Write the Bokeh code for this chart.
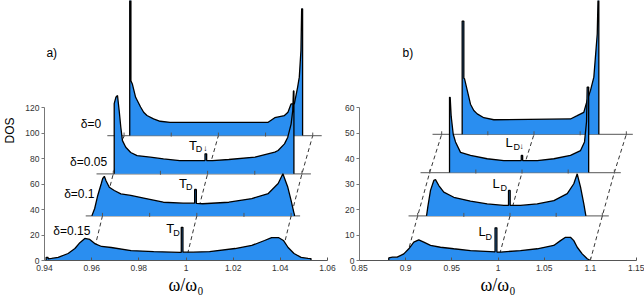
import numpy as np
from bokeh.plotting import figure
from bokeh.models import Range1d, FixedTicker, Label
from bokeh.layouts import row
from bokeh.embed import file_html
from bokeh.resources import INLINE

# ---------------- data ----------------
a_xticks = [0.94, 0.96, 0.98, 1.0, 1.02, 1.04, 1.06]
a_xtick_labels = ["0.94", "0.96", "0.98", "1", "1.02", "1.04", "1.06"]
a_yticks = [0, 20, 40, 60, 80, 100, 120]
b_xticks = [0.85, 0.9, 0.95, 1.0, 1.05, 1.1, 1.15]
b_xtick_labels = ["0.85", "0.9", "0.95", "1", "1.05", "1.1", "1.15"]
b_yticks = [0, 10, 20, 30, 40, 50, 60]

deltas = ["δ=0.15", "δ=0.1", "δ=0.05", "δ=0"]     # front (k=0) to back (k=3)
a_base = [0, 35, 68, 98]                            # baseline offset of each layer (DOS)
b_base = [0, 17.5, 34.5, 49.5]
a_shift = 0.00458                                   # horizontal offset per layer (ω/ω0)
b_shift = 0.0130
a_span = [0.9529, 1.0438]                           # extent of the offset baselines
b_span = [0.8901, 1.1070]
a_guide = [0.96, 0.98, 1.0, 1.02, 1.04]             # ticks on offset baselines
b_guide = [0.9, 0.95, 1.0, 1.05, 1.1]
a_dash = [0.96, 1.0, 1.04]                          # dashed perspective lines
b_dash = [0.9, 1.0, 1.1]

# panel a (T_D) histograms: x = ω/ω0, h = DOS above own baseline
a_x_d015 = [0.9407, 0.9407, 0.9415, 0.9415, 0.9430, 0.9458, 0.9500, 0.9529, 0.9550, 0.9571, 0.9592,
            0.9613, 0.9642, 0.9683, 0.9767, 0.9863, 0.9975, 0.9980, 0.9980, 0.9987, 0.9987, 1.0030,
            1.0100, 1.0208, 1.0279, 1.0333, 1.0363, 1.0392, 1.0413, 1.0433, 1.0458, 1.0488, 1.0517,
            1.0530, 1.0530]
a_h_d015 = [0, 2.5, 2.5, 1.2, 1.6, 2.4, 5.5, 9.4, 14.0, 17.3, 16.5,
            13.3, 11.0, 10.2, 7.8, 7.0, 6.3, 6.3, 26.0, 26.0, 6.5, 6.5,
            7.0, 9.4, 11.8, 15.7, 18.0, 18.0, 15.7, 10.2, 5.5, 2.4, 1.6,
            1.5, 0]
a_x_d010 = [0.9555, 0.9567, 0.9580, 0.9595, 0.9601, 0.9608, 0.9615, 0.9629, 0.9650, 0.9678, 0.9720,
            0.9775, 0.9858, 0.9942, 0.9991, 0.9991, 0.9998, 0.9998, 1.0025, 1.0136, 1.0233, 1.0303,
            1.0345, 1.0365, 1.0386, 1.0400, 1.0411, 1.0414, 1.0414]
a_h_d010 = [0, 5.8, 16.0, 25.4, 29.3, 31.0, 27.6, 22.4, 19.9, 17.2, 16.0,
            14.0, 10.7, 10.0, 10.0, 20.7, 20.7, 9.8, 9.5, 10.7, 13.6, 17.5,
            25.4, 33.0, 22.4, 12.0, 3.0, 1.0, 0]
a_x_d005 = [0.9604, 0.9604, 0.9611, 0.9618, 0.9625, 0.9632, 0.9639, 0.9653, 0.9674, 0.9701, 0.9757,
            0.9813, 0.9882, 0.9958, 0.9989, 0.9989, 0.9996, 0.9996, 1.0021, 1.0090, 1.0201, 1.0285,
            1.0299, 1.0326, 1.0340, 1.0354, 1.0361, 1.0364, 1.0366, 1.0366]
a_h_d005 = [0, 55.0, 60.0, 61.4, 49.6, 36.5, 26.0, 20.8, 16.7, 14.3, 13.0,
            11.7, 10.4, 10.4, 10.4, 15.7, 15.7, 10.4, 10.4, 11.2, 13.1, 17.0,
            18.3, 23.5, 28.7, 39.0, 49.6, 65.0, 65.0, 0]
a_x_d000 = [0.9624, 0.9624, 0.9629, 0.9629, 0.9635, 0.9649, 0.9670, 0.9683, 0.9697, 0.9725, 0.9753,
            0.9795, 1.0211, 1.0239, 1.0280, 1.0295, 1.0308, 1.0322, 1.0336, 1.0343, 1.0350, 1.0353,
            1.0357, 1.0357]
a_h_d000 = [0, 110.0, 110.0, 43.0, 40.5, 30.0, 22.4, 18.3, 15.7, 13.1, 11.2,
            10.4, 10.4, 14.0, 15.7, 18.3, 24.8, 24.8, 38.0, 45.8, 66.7, 99.4,
            99.4, 0]

# panel b (L_D) histograms
b_x_d015 = [0.8817, 0.8817, 0.8857, 0.8908, 0.8980, 0.9034, 0.9088, 0.9142, 0.9196, 0.9269, 0.9377,
            0.9521, 0.9702, 0.9919, 0.9968, 0.9968, 0.9988, 0.9988, 1.0027, 1.0244, 1.0425, 1.0604,
            1.0677, 1.0731, 1.0785, 1.0821, 1.0858, 1.0912, 1.0966, 1.1002]
b_h_d015 = [0, 1.0, 1.3, 1.3, 2.6, 4.6, 7.2, 8.1, 7.2, 5.9, 5.2,
            4.6, 3.9, 3.5, 3.4, 12.8, 12.8, 3.3, 3.3, 3.9, 4.6, 5.9,
            7.8, 9.1, 9.1, 7.8, 5.2, 2.6, 0.7, 0]
b_x_d010 = [0.9096, 0.9110, 0.9139, 0.9175, 0.9193, 0.9229, 0.9283, 0.9391, 0.9572, 0.9753, 0.9933,
            0.9984, 0.9984, 1.0002, 1.0002, 1.0114, 1.0295, 1.0475, 1.0620, 1.0691, 1.0728, 1.0764,
            1.0799, 1.0818, 1.0822]
b_h_d010 = [0, 3.5, 10.0, 13.9, 14.2, 11.9, 9.3, 7.3, 5.8, 4.7, 4.1,
            4.1, 10.0, 10.0, 4.1, 4.1, 4.7, 6.0, 8.7, 12.6, 16.5, 11.3,
            4.8, 0.8, 0]
b_x_d005 = [0.9215, 0.9215, 0.9222, 0.9233, 0.9255, 0.9280, 0.9334, 0.9442, 0.9623, 0.9803, 0.9992,
            0.9992, 1.0007, 1.0007, 1.0165, 1.0345, 1.0525, 1.0634, 1.0677, 1.0699, 1.0706, 1.0722,
            1.0722]
b_h_d005 = [0, 29.5, 29.5, 22.0, 15.0, 12.0, 7.9, 6.7, 5.4, 4.7, 4.7,
            6.7, 6.7, 4.7, 4.7, 5.4, 6.7, 8.6, 12.0, 20.0, 33.5, 33.5,
            0]
b_x_d000 = [0.9222, 0.9222, 0.9240, 0.9240, 0.9247, 0.9277, 0.9312, 0.9348, 0.9385, 0.9456, 0.9565,
            1.0395, 1.0468, 1.0539, 1.0576, 1.0612, 1.0648, 1.0685, 1.0695, 1.0702, 1.0702]
b_h_d000 = [0, 44.4, 44.4, 22.0, 21.8, 17.2, 11.8, 9.3, 8.0, 6.5, 5.7,
            6.0, 7.3, 8.6, 13.3, 17.2, 22.4, 39.4, 56.0, 56.0, 0]

# ---------------- style ----------------
BLUE = "#2a8ef0"
SANS = "Liberation Sans"
SERIF = "Liberation Serif"
FIG_H = 300
FRAME_H = 260
X_LABEL = "ω/ω₀"


def make_panel(width, left, right, xr, ytop, xticks, xlabels, yticks, ylabel=None):
    p = figure(width=width, height=FIG_H, x_range=Range1d(*xr), y_range=Range1d(0, ytop),
               output_backend="svg", toolbar_location=None,
               min_border_left=left, min_border_right=right,
               min_border_top=0, min_border_bottom=FIG_H - FRAME_H)
    p.outline_line_color = None
    p.xgrid.visible = False
    p.ygrid.visible = False
    p.background_fill_color = "white"
    p.border_fill_color = "white"
    xa = p.xaxis[0]
    xa.ticker = FixedTicker(ticks=xticks)
    xa.major_label_overrides = {t: s for t, s in zip(xticks, xlabels)}
    xa.major_tick_in = 3
    xa.major_tick_out = 0
    xa.minor_tick_line_color = None
    xa.major_label_standoff = 4
    xa.major_label_text_font = SANS
    xa.major_label_text_font_size = "8.5px"
    xa.major_label_text_color = "#333333"
    xa.axis_line_color = "#555555"
    xa.major_tick_line_color = "#555555"
    xa.axis_label = X_LABEL
    xa.axis_label_text_font = SERIF
    xa.axis_label_text_font_style = "normal"
    xa.axis_label_text_font_size = "18px"
    xa.axis_label_text_color = "black"
    xa.axis_label_standoff = 1
    ya = p.yaxis[0]
    ya.ticker = FixedTicker(ticks=yticks)
    ya.bounds = (yticks[0], yticks[-1])
    ya.major_tick_in = 0
    ya.major_tick_out = 3
    ya.minor_tick_line_color = None
    ya.major_label_standoff = 2
    ya.major_label_text_font = SANS
    ya.major_label_text_font_size = "8.5px"
    ya.major_label_text_color = "#333333"
    ya.axis_line_color = "#777777"
    ya.major_tick_line_color = "#777777"
    if ylabel:
        ya.axis_label = ylabel
        ya.axis_label_text_font = SANS
        ya.axis_label_text_font_style = "normal"
        ya.axis_label_text_font_size = "12px"
        ya.axis_label_text_color = "black"
        ya.axis_label_standoff = 5
    return p


def draw_panel(p, layers, bases, shift, span, guide, dash, px_per_unit):
    # dashed perspective lines
    for x0 in dash:
        xs = [x0 + k * shift for k in range(len(bases))]
        p.line(xs, bases, line_color="black", line_width=0.8, line_dash="4 3")
    tick_up = 3.0 / px_per_unit
    tick_dn = 1.0 / px_per_unit
    # back to front
    for k in range(len(bases) - 1, -1, -1):
        xs_raw, hs_raw = layers[k]
        base = bases[k]
        off = k * shift
        if k > 0:
            p.line([span[0] + off, span[1] + off], [base, base], line_color="#777777", line_width=1.3)
        x = np.array(xs_raw) + off
        top = np.array(hs_raw) + base
        p.varea(x=x, y1=np.full(len(x), float(base)), y2=top, fill_color=BLUE)
        p.line(x=x, y=top, line_color="black", line_width=1.3)
        if k > 0:
            gx = [g + off for g in guide]
            p.segment(x0=gx, y0=[base - tick_dn] * len(gx), x1=gx, y1=[base + tick_up] * len(gx),
                      line_color="#555555", line_width=1)


def txt(p, x, y, text, size, font=SANS, align="left", baseline="middle", color="black"):
    p.add_layout(Label(x=x, y=y, text=text, text_font=font, text_font_size=size,
                       text_align=align, text_baseline=baseline, text_color=color))


# ---------------- panel a ----------------
pa = make_panel(337, 39, 10, (0.94, 1.06), FRAME_H / 1.275, a_xticks, a_xtick_labels, a_yticks,
                ylabel="DOS")
draw_panel(pa, [(a_x_d015, a_h_d015), (a_x_d010, a_h_d010), (a_x_d005, a_h_d005), (a_x_d000, a_h_d000)],
           a_base, a_shift, a_span, a_guide, a_dash, 1.275)
txt(pa, 0.9408, 162.4, "a)", "12px")
txt(pa, 0.95542, 106.7, deltas[3], "12px")
txt(pa, 0.95083, 76.9, deltas[2], "12px")
txt(pa, 0.94833, 52.5, deltas[1], "12px")
txt(pa, 0.94375, 23.5, deltas[0], "12px")
# T_D labels
txt(pa, 1.00125, 90.2, "T", "13px")
txt(pa, 1.00417, 87.1, "D", "9px")
txt(pa, 1.00813, 87.5, "↓", "8px", align="center")
txt(pa, 0.99708, 60.4, "T", "13px")
txt(pa, 1.0000, 57.3, "D", "9px")
txt(pa, 0.99167, 25.1, "T", "13px")
txt(pa, 0.99458, 21.6, "D", "9px")

# ---------------- panel b ----------------
pb = make_panel(307, 22, 8, (0.85, 1.15), FRAME_H / 2.55, b_xticks, b_xtick_labels, b_yticks)
draw_panel(pb, [(b_x_d015, b_h_d015), (b_x_d010, b_h_d010), (b_x_d005, b_h_d005), (b_x_d000, b_h_d000)],
           b_base, b_shift, b_span, b_guide, b_dash, 2.55)
txt(pb, 0.89657, 81.2, "b)", "12px")
txt(pb, 1.00813, 46.3, "L", "13px")
txt(pb, 1.01679, 44.7, "D", "9px")
txt(pb, 1.02546, 44.9, "↓", "8px", align="center")
txt(pb, 0.99405, 30.2, "L", "13px")
txt(pb, 1.00271, 28.6, "D", "9px")
txt(pb, 0.97889, 11.2, "L", "13px")
txt(pb, 0.98647, 9.4, "D", "9px")

layout = row(pa, pb)
open("out.html", "w").write(file_html(layout, INLINE))
